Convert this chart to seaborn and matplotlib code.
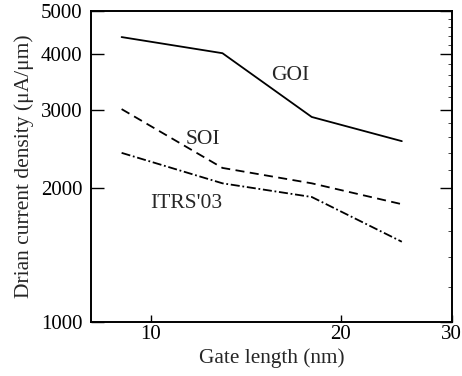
import matplotlib
matplotlib.use("Agg")
import matplotlib.pyplot as plt
import seaborn as sns
import pandas as pd
from matplotlib.ticker import FixedLocator, NullFormatter, LogLocator

sns.set_style("white")
plt.rcParams['font.family'] = ['Liberation Serif', 'DejaVu Serif']

gate_length = [9, 13, 18, 25]
goi = [4370, 4020, 2890, 2550]
soi = [3010, 2220, 2050, 1840]
itrs = [2400, 2050, 1910, 1515]
series_names = ["GOI", "SOI", "ITRS'03"]
y_ticks = [1000, 2000, 3000, 4000, 5000]
x_ticks = [10, 20, 30]

df = pd.DataFrame({
    "x": gate_length * 3,
    "y": goi + soi + itrs,
    "s": [series_names[0]] * 4 + [series_names[1]] * 4 + [series_names[2]] * 4,
})

fig = plt.figure(figsize=(4.62, 3.76), dpi=100)
ax = fig.add_axes([0.197, 0.1436, 0.781, 0.827])

dash_styles = {"GOI": None, "SOI": (5, 3), "ITRS'03": (5, 1.5, 1, 1.5)}
for name in series_names:
    sub = df[df.s == name]
    sns.lineplot(data=sub, x="x", y="y", ax=ax, color="black", lw=1.3,
                 legend=False, estimator=None)
    line = ax.lines[-1]
    if dash_styles[name] is not None:
        line.set_dashes(dash_styles[name])

ax.set_xscale("log")
ax.set_yscale("log")
ax.set_xlim(8.05, 30)
ax.set_ylim(1000, 5000)

ax.xaxis.set_major_locator(FixedLocator(x_ticks))
ax.xaxis.set_minor_locator(FixedLocator([]))
ax.set_xticklabels([str(t) for t in x_ticks])
ax.yaxis.set_major_locator(FixedLocator(y_ticks))
ax.yaxis.set_minor_formatter(NullFormatter())
ax.yaxis.set_minor_locator(LogLocator(base=10, subs=[1.2,1.4,1.6,1.8,2.2,2.4,2.6,2.8,3.2,3.4,3.6,3.8,4.2,4.4,4.6,4.8]))
ax.set_yticklabels([str(t) for t in y_ticks])

ax.tick_params(axis='both', which='major', direction='in', width=1,
               labelsize=15, colors='black')
ax.tick_params(axis='y', which='major', left=True, right=True, length=9, pad=6)
ax.tick_params(axis='y', which='minor', left=False, right=True, direction='in', length=3, width=0.6)
ax.tick_params(axis='x', which='major', bottom=True, top=False, length=5, pad=2)

for sp in ax.spines.values():
    sp.set_color('black')
    sp.set_linewidth(1.4)

ax.set_xlabel("Gate length (nm)", fontsize=15.3, labelpad=3)
ax.set_ylabel("Drian current density (μA/μm)", fontsize=15.5, labelpad=5)

ax.text(15.54, 3499, "GOI", fontsize=15.5, ha='left', va='baseline')
ax.text(11.37, 2512, "SOI", fontsize=15.5, ha='left', va='baseline')
ax.text(10.0, 1804, "ITRS'03", fontsize=15.5, ha='left', va='baseline')

fig.savefig("out.png", dpi=100)
